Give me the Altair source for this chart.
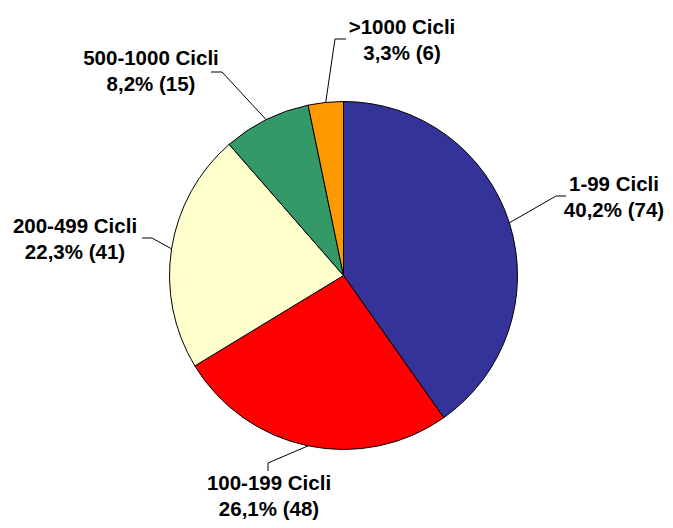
import math
import altair as alt
import pandas as pd

# ---- data ----
categories = ["1-99 Cicli", "100-199 Cicli", "200-499 Cicli", "500-1000 Cicli", ">1000 Cicli"]
counts = [74, 48, 41, 15, 6]
colors = ["#333399", "#FF0000", "#FFFFCC", "#339966", "#FF9900"]

# ---- layout (page pixels) ----
W, H = 657, 512
CX, CY, R = 343.5, 275.5, 174
label_x = [614, 269, 75, 151, 402]
label_y = [191, 490, 233, 65, 34]
elbow = [(556, 196), (268, 463), (152, 238), (222, 72), (335, 39)]
end = [(566, 196), (268, 471), (142, 238), (211, 72), (346, 39)]

total = sum(counts)
pie_df = pd.DataFrame({"cat": categories, "value": counts, "idx": list(range(len(counts)))})

labels, line_rows = [], []
cum = 0
for i, (c, n) in enumerate(zip(categories, counts)):
    mid = (cum + n / 2) / total * 2 * math.pi
    cum += n
    ex, ey = CX + R * math.sin(mid), CY - R * math.cos(mid)
    pts = [(ex, ey), elbow[i], end[i]]
    for s, (px, py) in enumerate(pts):
        line_rows.append({"cat": c, "step": s, "x": px, "y": py})
    pct = f"{n / total * 100:.1f}".replace(".", ",")
    labels.append({"cat": c, "x": label_x[i], "y": label_y[i], "text": f"{c}\n{pct}% ({n})"})

line_df = pd.DataFrame(line_rows)
lab_df = pd.DataFrame(labels)

xs = alt.Scale(domain=[8, 8 + W], zero=False, nice=False)
ys = alt.Scale(domain=[8, 8 + H], zero=False, nice=False, reverse=True)

pie = alt.Chart(pie_df).mark_arc(outerRadius=R, stroke="black", strokeWidth=1).encode(
    theta=alt.Theta("value:Q", stack=True),
    order=alt.Order("idx:Q"),
    color=alt.Color("cat:N", scale=alt.Scale(domain=categories, range=colors), legend=None),
    x=alt.value(CX - 8),
    y=alt.value(CY - 8),
)

lines = alt.Chart(line_df).mark_line(color="black", strokeWidth=1).encode(
    x=alt.X("x:Q", scale=xs, axis=None),
    y=alt.Y("y:Q", scale=ys, axis=None),
    detail="cat:N",
    order="step:Q",
)

text = alt.Chart(lab_df).mark_text(
    font="Liberation Sans", fontSize=20.5, fontWeight="bold", align="center",
    baseline="alphabetic", lineBreak="\n", lineHeight=26, color="black",
).encode(
    x=alt.X("x:Q", scale=xs, axis=None),
    y=alt.Y("y:Q", scale=ys, axis=None),
    text="text:N",
)

chart = alt.layer(pie, lines, text).properties(
    width=W, height=H, padding=0, autosize=alt.AutoSizeParams(type="none")
).configure_view(stroke=None)

chart.save("out.html", embed_options={"renderer": "svg", "actions": False})
